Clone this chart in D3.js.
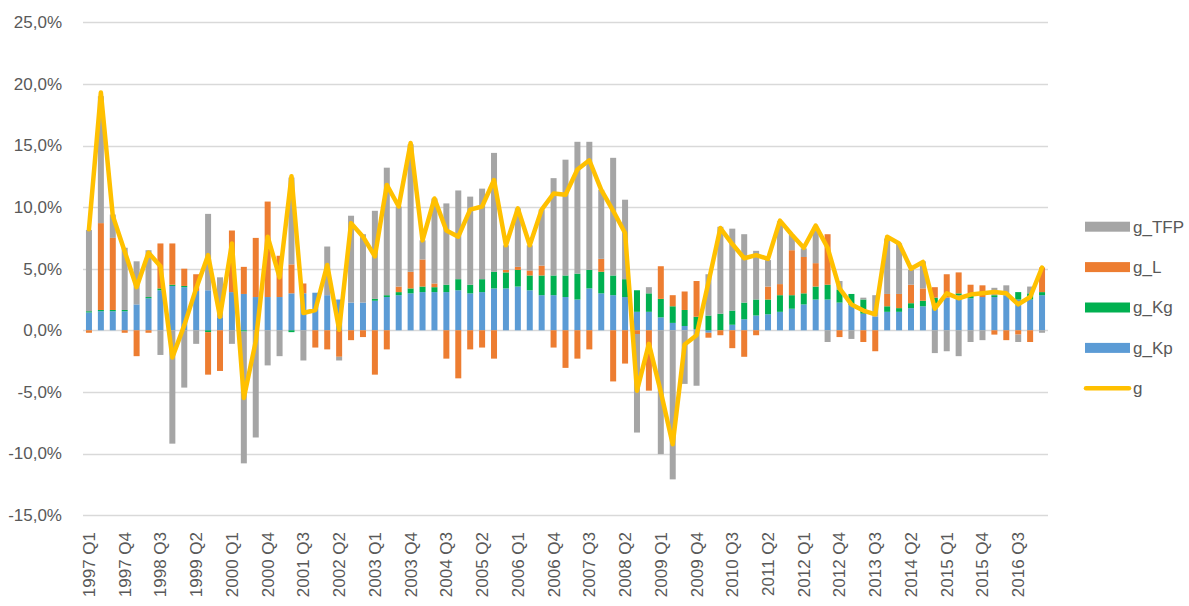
<!DOCTYPE html>
<html>
<head>
<meta charset="utf-8">
<script src="https://cdn.jsdelivr.net/npm/d3@7"></script>
<style>
  body { margin: 0; background: #fff; }
  text { font-family: "Liberation Sans", Arial, sans-serif; fill: #595959; }
</style>
</head>
<body>
<div id="chart"></div>
<script>
// quarters 1997 Q1 .. 2017 Q1
var quarters = d3.range(1997, 2018)
    .flatMap(y => ["Q1", "Q2", "Q3", "Q4"].map(q => y + " " + q))
    .slice(0, 81);

var seriesNames = ["g_Kp", "g_Kg", "g_L", "g_TFP"];
var seriesColors = ["#5B9BD5", "#00B050", "#ED7D31", "#A5A5A5"];

// contributions, % points
var gKp = [1.45, 1.55, 1.55, 1.55, 2.1, 2.6, 3.25, 3.6, 3.5, 3.2,
    3.25, 1.0, 3.1, 2.95, 2.7, 2.7, 2.7, 3.0, 3.0, 3.05,
    2.85, 2.5, 2.25, 2.25, 2.4, 2.7, 2.85, 3.0, 3.1, 3.1,
    3.1, 3.25, 3.0, 3.1, 3.4, 3.4, 3.55, 3.25, 2.85, 2.85,
    2.7, 2.5, 3.4, 3.0, 2.85, 2.7, 1.5, 1.5, 1.05, 0.6,
    0.35, 0.1, -0.2, 0.0, 0.45, 0.9, 1.2, 1.3, 1.5, 1.75,
    2.1, 2.5, 2.5, 2.25, 2.05, 1.35, 1.1, 1.5, 1.5, 1.8,
    1.95, 2.2, 2.65, 2.85, 2.6, 2.7, 2.7, 2.85, 2.5, 2.5, 2.85];

var gKg = [0.1, 0.1, 0.1, 0.1, 0, 0.1, 0.15, 0.1, 0.1, 0,
    -0.15, 0, 0, -0.1, 0, 0, 0, -0.15, 0, 0,
    0, 0, 0, 0, 0.15, 0.15, 0.25, 0.4, 0.45, 0.4,
    0.6, 0.9, 0.7, 1.05, 1.35, 1.3, 1.35, 1.2, 1.6, 1.6,
    1.75, 2.1, 1.5, 1.75, 1.6, 1.45, 1.75, 1.5, 1.5, 1.35,
    1.3, 1.0, 1.2, 1.35, 1.15, 1.35, 1.3, 1.2, 1.35, 1.1,
    0.9, 1.05, 1.2, 1.05, 0.9, 1.15, 0, 0.45, 0.3, 0.4,
    0.45, 0.45, 0, 0.15, 0.2, 0, 0.15, 0, 0.6, 0.5, 0.25];

var gL = [-0.2, 7.05, 5.85, -0.2, -2.1, -0.2, 3.65, 3.35, 1.4, 1.35,
    -3.45, -3.3, 5.0, 2.2, 4.8, 7.75, 3.35, 2.35, 0.8, -1.4,
    -1.55, -2.15, -0.8, -0.55, -3.6, -1.55, 0.45, 1.35, 2.2, 0.3,
    -2.3, -3.9, -1.55, -1.4, -2.3, 0.2, 0.25, 0.4, 0.8, -1.4,
    -3.05, -2.3, -1.55, 1.05, -4.15, -2.7, -0.3, -4.9, 2.65, 0.9,
    1.5, 2.9, -0.4, -0.4, -1.45, -2.15, -0.4, 1.05, 0.9, 3.65,
    2.95, 1.9, 4.1, -0.55, 0, -0.95, -1.7, 1.0, 1.15, 1.5,
    1.0, 0.85, 1.9, 1.7, 0.9, 0.95, -0.35, -0.8, -0.35, -0.95, 2.0];

var gTFP = [6.6, 10.3, 1.9, 5.05, 3.5, 3.8, -2.0, -9.2, -4.65, -1.1,
    6.2, 3.3, -1.1, -10.7, -8.7, -2.85, -2.1, 7.05, -2.45, 0,
    3.95, -0.3, 7.05, 5.55, 7.15, 10.35, 6.5, 10.35, 1.55, 6.9,
    6.6, 7.2, 7.15, 7.35, 9.65, 2.0, 4.75, 2.05, 4.55, 7.9,
    9.4, 10.7, 10.4, 5.6, 9.55, 6.45, -8.0, 0.5, -10.05, -12.1,
    -4.35, -4.5, 3.35, 7.05, 6.65, 5.55, 3.95, 2.15, 5.1, 1.25,
    0.7, 2.95, -0.95, 0.7, -0.7, 0.15, 1.75, 4.5, 4.1, 1.2,
    2.2, -1.85, -1.7, -2.1, -0.95, -0.8, 0.6, 0.8, -0.6, 0.55, -0.2];

// total growth g (line)
var g = [8.2, 19.3, 9.3, 6.4, 3.5, 6.3, 5.2, -2.2, 0.4, 3.4,
    6.1, 1.1, 7.05, -5.5, -0.9, 7.6, 4.3, 12.5, 1.4, 1.65,
    5.3, 0.05, 8.7, 7.6, 6.0, 11.8, 10.05, 15.2, 7.3, 10.7,
    8.1, 7.6, 9.8, 10.05, 12.2, 6.9, 9.9, 6.9, 9.8, 11.1,
    11.0, 13.05, 13.8, 11.4, 9.7, 7.9, -4.9, -1.1, -5.0, -9.25,
    -1.15, -0.4, 3.9, 8.3, 7.0, 5.85, 6.1, 5.8, 8.9, 7.75,
    6.7, 8.5, 6.7, 3.4, 2.1, 1.6, 1.3, 7.6, 7.05, 5.0,
    5.55, 1.75, 3.0, 2.6, 2.9, 3.0, 3.1, 3.0, 2.1, 2.7, 5.1];

var yTicks = [-15, -10, -5, 0, 5, 10, 15, 20, 25];

var svgWidth = 1189;
var svgHeight = 606;

var svg = d3.select("#chart")
    .append("svg")
    .attr("width", svgWidth)
    .attr("height", svgHeight);

var x = d3.scaleBand()
    .domain(quarters)
    .range([83, 1048])
    .paddingInner(0.5)
    .paddingOuter(0.25);

var y = d3.scaleLinear()
    .domain([-15, 25])
    .range([515.1, 22.3]);

//comma decimal, plain hyphen minus
var locale = d3.formatLocale({ decimal: ",", thousands: ".", grouping: [3], currency: ["", "€"], minus: "-" });
var fmt = locale.format(".1f");

//gridlines
svg.append("g")
    .selectAll("line")
    .data(yTicks)
    .enter()
    .append("line")
    .attr("x1", 83)
    .attr("x2", 1048)
    .attr("y1", d => Math.round(y(d)) + 0.5)
    .attr("y2", d => Math.round(y(d)) + 0.5)
    .attr("stroke", "#D9D9D9")
    .attr("stroke-width", 1.3);

//y labels
var leftAxis = d3.axisLeft(y)
    .tickValues(yTicks)
    .tickSize(0)
    .tickPadding(0)
    .tickFormat(d => fmt(d) + "%");

svg.append("g")
    .attr("transform", "translate(62,0)")
    .call(leftAxis)
    .call(g => g.select(".domain").remove())
    .selectAll("text")
    .attr("font-size", "17px")
    .attr("font-family", "'Liberation Sans', Arial, sans-serif")
    .attr("fill", "#595959");

//x labels
var bottomAxis = d3.axisBottom(x)
    .tickValues(quarters.filter((d, i) => i % 3 === 0))
    .tickSize(0)
    .tickPadding(0);

svg.append("g")
    .attr("transform", "translate(0,532)")
    .call(bottomAxis)
    .call(g => g.select(".domain").remove())
    .selectAll("text")
    .attr("font-size", "17px")
    .attr("font-family", "'Liberation Sans', Arial, sans-serif")
    .attr("fill", "#595959")
    .attr("text-anchor", "end")
    .attr("dy", "0.35em")
    .attr("x", 0)
    .attr("y", 0)
    .attr("transform", "rotate(-90)");

//stacked bars
var rows = quarters.map((q, i) => ({
    q: q,
    g_Kp: gKp[i],
    g_Kg: gKg[i],
    g_L: gL[i],
    g_TFP: gTFP[i]
}));

var stack = d3.stack()
    .keys(seriesNames)
    .offset(d3.stackOffsetDiverging);

var layers = stack(rows);

var bw = 6;
svg.append("g")
    .selectAll("g")
    .data(layers)
    .enter()
    .append("g")
    .attr("fill", (d, i) => seriesColors[i])
    .selectAll("rect")
    .data(d => d)
    .enter()
    .append("rect")
    .attr("x", d => x(d.data.q) + x.bandwidth() / 2 - bw / 2)
    .attr("width", bw)
    .attr("y", d => y(Math.max(d[0], d[1])))
    .attr("height", d => Math.abs(y(d[0]) - y(d[1])));

//g line
var line = d3.line()
    .x((d, i) => x(quarters[i]) + x.bandwidth() / 2)
    .y(d => y(d));

svg.append("path")
    .datum(g)
    .attr("d", line)
    .attr("fill", "none")
    .attr("stroke", "#FFC000")
    .attr("stroke-width", 4.5)
    .attr("stroke-linejoin", "round")
    .attr("stroke-linecap", "round");

//legend
var legendItems = [
    { name: "g_TFP", color: "#A5A5A5", type: "bar" },
    { name: "g_L", color: "#ED7D31", type: "bar" },
    { name: "g_Kg", color: "#00B050", type: "bar" },
    { name: "g_Kp", color: "#5B9BD5", type: "bar" },
    { name: "g", color: "#FFC000", type: "line" }
];

var legend = svg.append("g")
    .selectAll("g")
    .data(legendItems)
    .enter()
    .append("g")
    .attr("transform", (d, i) => `translate(1085, ${226.7 + i * 40.4})`);

legend.filter(d => d.type === "bar")
    .append("rect")
    .attr("x", 0)
    .attr("y", -5)
    .attr("width", 45)
    .attr("height", 10)
    .attr("fill", d => d.color);

legend.filter(d => d.type === "line")
    .append("line")
    .attr("x1", 1)
    .attr("x2", 44)
    .attr("y1", 0)
    .attr("y2", 0)
    .attr("stroke", d => d.color)
    .attr("stroke-width", 4.5)
    .attr("stroke-linecap", "round");

legend.append("text")
    .attr("x", 48)
    .attr("y", 0)
    .attr("dy", "0.35em")
    .attr("font-size", "17px")
    .text(d => d.name);
</script>
</body>
</html>
